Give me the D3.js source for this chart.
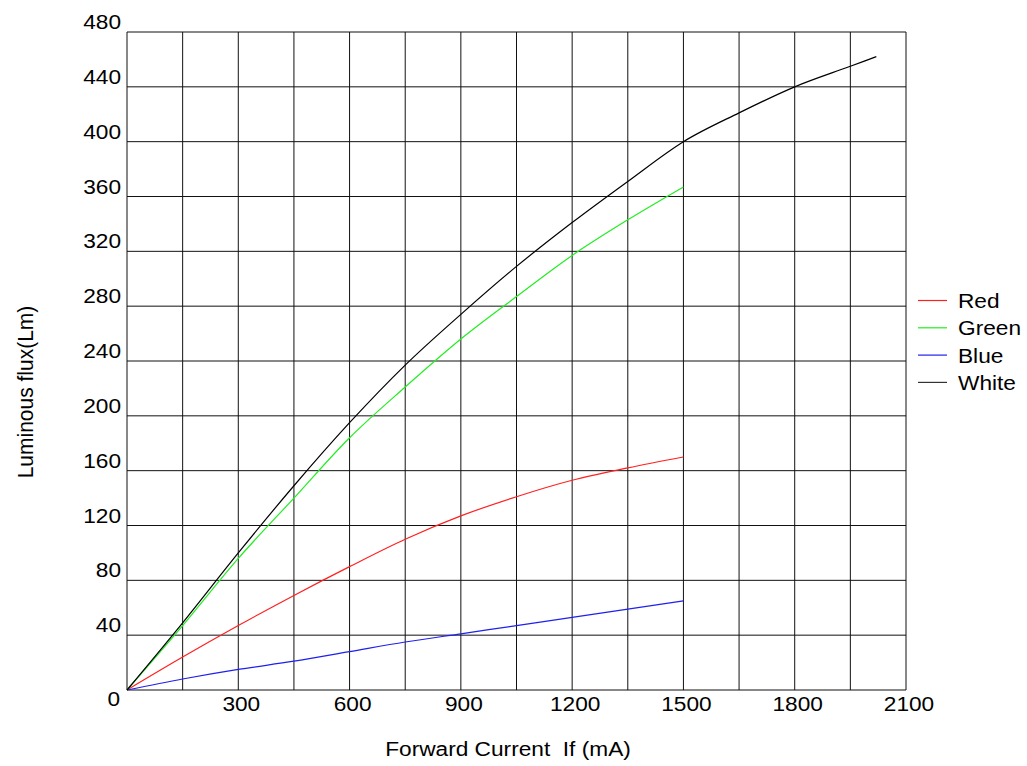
<!DOCTYPE html>
<html>
<head>
<meta charset="utf-8">
<script src="https://cdn.jsdelivr.net/npm/d3@7"></script>
<style>
  body { margin: 0; background: #fff; }
  text { font-family: "Liberation Sans", Arial, sans-serif; fill: #000; white-space: pre; }
</style>
</head>
<body>
<svg id="viz" width="1027" height="766"></svg>
<script>
// data
const current = [0, 150, 300, 450, 600, 750, 900, 1050, 1200, 1350, 1500];
const red   = [0, 24, 47, 69, 90, 110, 127, 141, 153, 162, 170];
const green = [0, 47, 96, 140, 184, 221, 256, 287, 317, 343, 367];
const blue  = [0, 8, 15, 21, 28, 35, 41, 47, 53, 59, 65];
const whiteCurrent = [0, 150, 300, 450, 600, 750, 900, 1050, 1200, 1350, 1500, 1650, 1800, 1950, 2020];
const white = [0, 49, 100, 149, 195, 237, 274, 309, 341, 371, 400, 421, 440, 455, 462];

const xTicks = [300, 600, 900, 1200, 1500, 1800, 2100];
const yTicks = [40, 80, 120, 160, 200, 240, 280, 320, 360, 400, 440, 480];
const legendNames = ["Red", "Green", "Blue", "White"];
const legendColors = ["#ff2020", "#20ee20", "#2020ee", "#333333"];

let svg = d3.select("#viz");

let x = d3.scaleLinear().domain([0, 2100]).range([127, 906]);
let y = d3.scaleLinear().domain([0, 480]).range([690, 32]);

const sx = 1.08; // text in the source is a little wide

function label(g, tx, ty, str, anchor, rot) {
    let t = g.append("g")
        .attr("transform", `translate(${tx},${ty}) scale(${sx},1)` + (rot ? ` rotate(${rot})` : ""));
    t.append("text")
        .attr("text-anchor", anchor)
        .attr("font-size", 21)
        .text(str);
}

// grid
let grid = svg.append("g");
grid.selectAll(".vl").data(d3.range(0, 2101, 150))
    .join("line")
    .attr("x1", d => x(d)).attr("x2", d => x(d))
    .attr("y1", y(0)).attr("y2", y(480))
    .attr("stroke", "#111").attr("stroke-width", 1);
grid.selectAll(".hl").data(d3.range(0, 481, 40))
    .join("line")
    .attr("x1", x(0)).attr("x2", x(2100))
    .attr("y1", d => y(d)).attr("y2", d => y(d))
    .attr("stroke", "#111").attr("stroke-width", 1);

// tick labels
let labels = svg.append("g");
xTicks.forEach(d => label(labels, x(d) + 3, 711, d, "middle"));
yTicks.forEach(d => label(labels, 121, y(d) - 3, d, "end"));
label(labels, 120, 706, "0", "end");

// axis titles
label(labels, 508, 756, "Forward Current  If (mA)", "middle");
label(labels, 33, 392, "Luminous flux(Lm)", "middle", -90);

// curves
let line = d3.line()
    .x(d => x(d[0]))
    .y(d => y(d[1]))
    .curve(d3.curveMonotoneX);

let series = [
    { pts: d3.zip(current, red), color: legendColors[0] },
    { pts: d3.zip(current, green), color: legendColors[1] },
    { pts: d3.zip(current, blue), color: legendColors[2] },
    { pts: d3.zip(whiteCurrent, white), color: "#000" }
];

svg.append("g").selectAll("path")
    .data(series)
    .join("path")
    .attr("d", d => line(d.pts))
    .attr("fill", "none")
    .attr("stroke", d => d.color)
    .attr("stroke-width", 1.2);

// legend
let legend = svg.append("g");
legendNames.forEach((n, i) => {
    let ly = 300.5 + i * 27.3;
    legend.append("line")
        .attr("x1", 918).attr("x2", 947)
        .attr("y1", ly).attr("y2", ly)
        .attr("stroke", legendColors[i]).attr("stroke-width", 1.2);
    label(legend, 958, ly + 7.5, n, "start");
});
</script>
</body>
</html>
